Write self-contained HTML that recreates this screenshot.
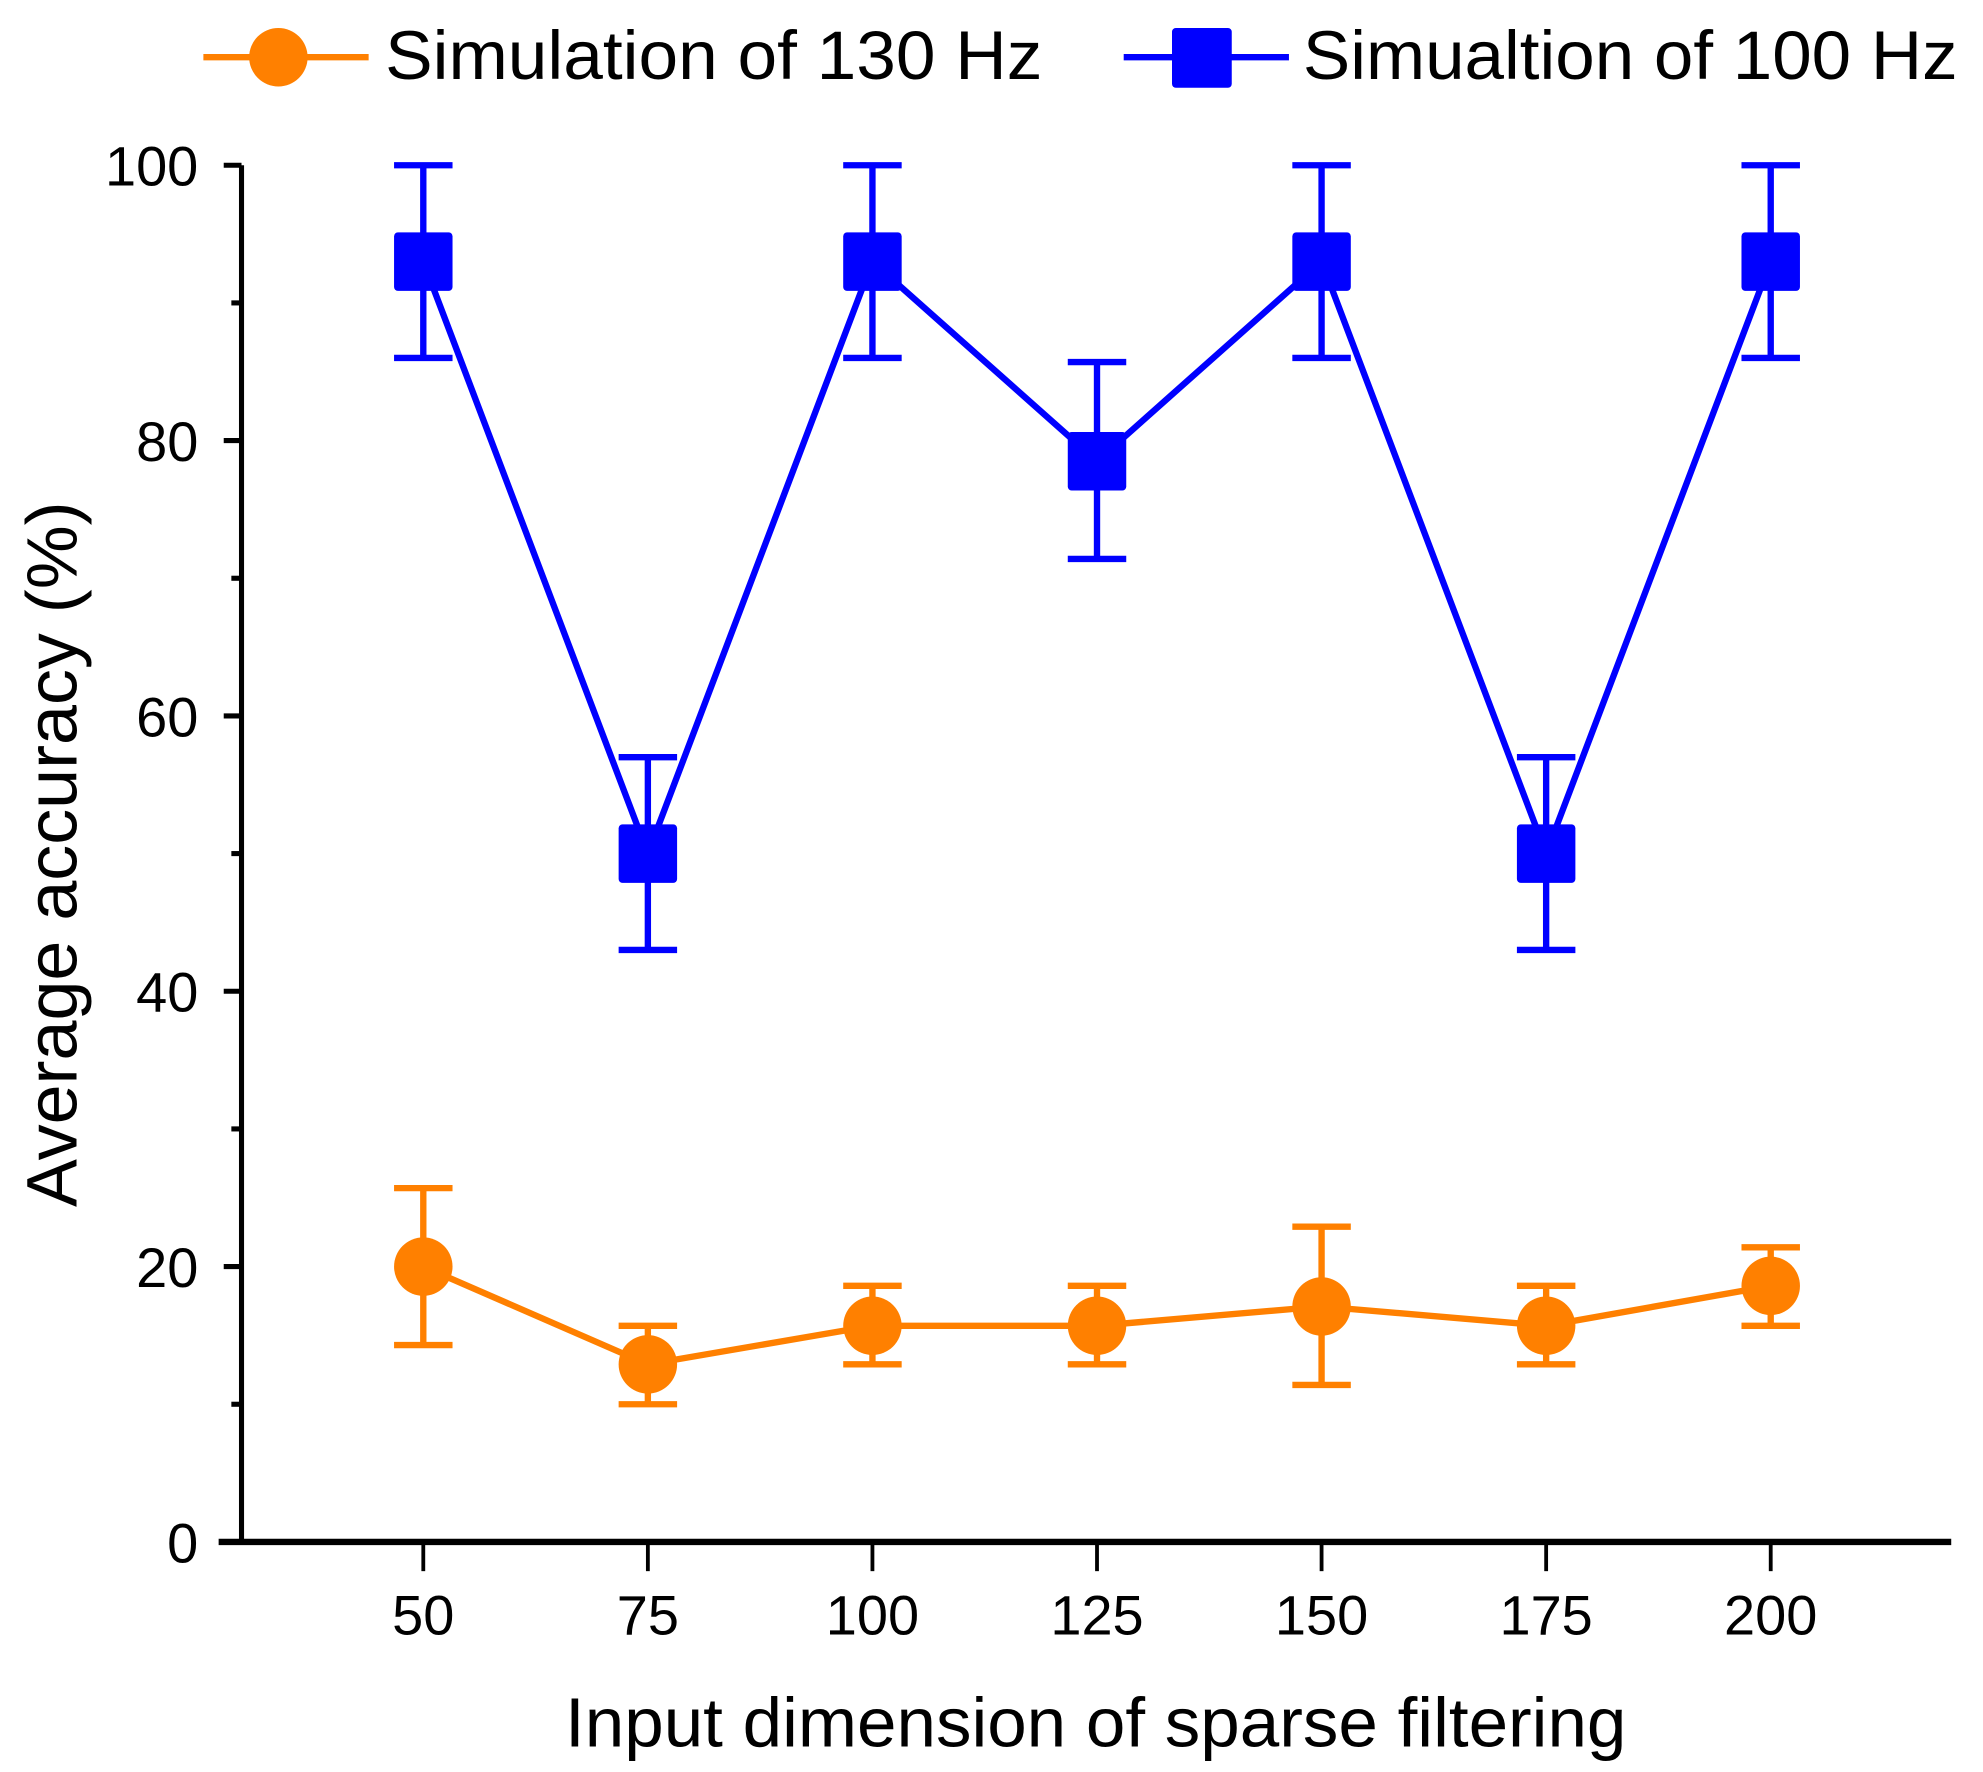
<!DOCTYPE html>
<html><head><meta charset="utf-8">
<style>
html,body{margin:0;padding:0;background:#fff;}
svg{display:block;}
text{font-family:"Liberation Sans",Arial,sans-serif;fill:#000;}
</style></head>
<body>
<svg id="chart" width="1983" height="1772" viewBox="0 0 1560 1394" preserveAspectRatio="none" xmlns="http://www.w3.org/2000/svg">
  <g id="legend">
    <g>
      <line x1="160" y1="45" x2="290" y2="45" stroke="#ff8000" stroke-width="5"/>
      <circle cx="219" cy="45" r="23" fill="#ff8000"/>
      <text x="303" y="62" font-size="54" textLength="517" lengthAdjust="spacingAndGlyphs">Simulation of 130 Hz</text>
    </g>
    <g>
      <line x1="884" y1="45" x2="1014" y2="45" stroke="#0000ff" stroke-width="5"/>
      <rect x="922" y="22" width="47" height="47" rx="3" fill="#0000ff"/>
      <text x="1025" y="62" font-size="54" textLength="515" lengthAdjust="spacingAndGlyphs">Simualtion of 100 Hz</text>
    </g>
  </g>
  <g id="axes"></g>
  <g id="series"></g>
  <text x="862" y="1374" font-size="55" text-anchor="middle" textLength="835" lengthAdjust="spacingAndGlyphs">Input dimension of sparse filtering</text>
  <text transform="translate(60,672) rotate(-90)" font-size="56" text-anchor="middle" textLength="555" lengthAdjust="spacingAndGlyphs">Average accuracy (%)</text>
</svg>
<script>
const categories = [50, 75, 100, 125, 150, 175, 200];
const yTicks = [0, 20, 40, 60, 80, 100];
const yMinorTicks = [10, 30, 50, 70, 90];
const s130 = [20, 12.9, 15.7, 15.7, 17.1, 15.7, 18.6];
const s130Lo = [14.3, 10, 12.9, 12.9, 11.4, 12.9, 15.7];
const s130Hi = [25.7, 15.7, 18.6, 18.6, 22.9, 18.6, 21.4];
const s100 = [93, 50, 93, 78.5, 93, 50, 93];
const s100Lo = [86, 43, 86, 71.4, 86, 43, 86];
const s100Hi = [100, 57, 100, 85.7, 100, 57, 100];

const NS = 'http://www.w3.org/2000/svg';
function xS(v){ return 333 + (v - 50) * (1393 - 333) / 150; }
function yS(v){ return 1213 - v * (1213 - 130) / 100; }
function mk(parent, tag, attrs){
  const e = document.createElementNS(NS, tag);
  for (const k in attrs) e.setAttribute(k, attrs[k]);
  parent.appendChild(e);
  return e;
}
const axes = document.getElementById('axes');
const series = document.getElementById('series');

let el = mk(axes, 'line', {x1:190, y1:yS(100), x2:190, y2:yS(0)+2, stroke:'#000', 'stroke-width':4});


el = mk(axes, 'line', {x1:172, y1:yS(0), x2:1535, y2:yS(0), stroke:'#000', 'stroke-width':5});



yTicks.forEach(function(t){
  const tk = mk(axes, 'line', {x1:176, y1:yS(t), x2:190, y2:yS(t), stroke:'#000', 'stroke-width':4});
  
  
  const lb = mk(axes, 'text', {x:156, y:yS(t)+16, 'font-size':44, 'text-anchor':'end'});
  lb.textContent = t;
  
  
});
yMinorTicks.forEach(function(t){
  const tk = mk(axes, 'line', {x1:182, y1:yS(t), x2:190, y2:yS(t), stroke:'#000', 'stroke-width':4});
  
  
});
categories.forEach(function(c){
  const tk = mk(axes, 'line', {x1:xS(c), y1:yS(0), x2:xS(c), y2:yS(0)+23, stroke:'#000', 'stroke-width':3});
  
  
  const lb = mk(axes, 'text', {x:xS(c), y:yS(0)+73, 'font-size':44, 'text-anchor':'middle'});
  lb.textContent = c;
  
  
});

function drawSeries(vals, lo, hi, color, shape, name){
  const g = mk(series, 'g', {});
  
  
  vals.forEach(function(v, i){
    const x = xS(categories[i]);
    const eb = mk(g, 'path', {d:'M'+(x-23)+','+yS(hi[i])+'H'+(x+23)+'M'+x+','+yS(hi[i])+'V'+yS(lo[i])+'M'+(x-23)+','+yS(lo[i])+'H'+(x+23), stroke:color, 'stroke-width':5, fill:'none'});
    
    
  });
  const pts = vals.map(function(v, i){ return xS(categories[i]) + ',' + yS(v); }).join(' ');
  const ln = mk(g, 'polyline', {points:pts, stroke:color, 'stroke-width':5, fill:'none'});
  
  
  vals.forEach(function(v, i){
    const x = xS(categories[i]), y = yS(v);
    let m;
    if (shape === 'circle') m = mk(g, 'circle', {cx:x, cy:y, r:23, fill:color});
    else m = mk(g, 'rect', {x:x-23, y:y-23, width:46, height:46, rx:3, fill:color});
    
    
  });
}
drawSeries(s100, s100Lo, s100Hi, '#0000ff', 'square', 'series-100hz');
drawSeries(s130, s130Lo, s130Hi, '#ff8000', 'circle', 'series-130hz');
</script>
</body></html>
